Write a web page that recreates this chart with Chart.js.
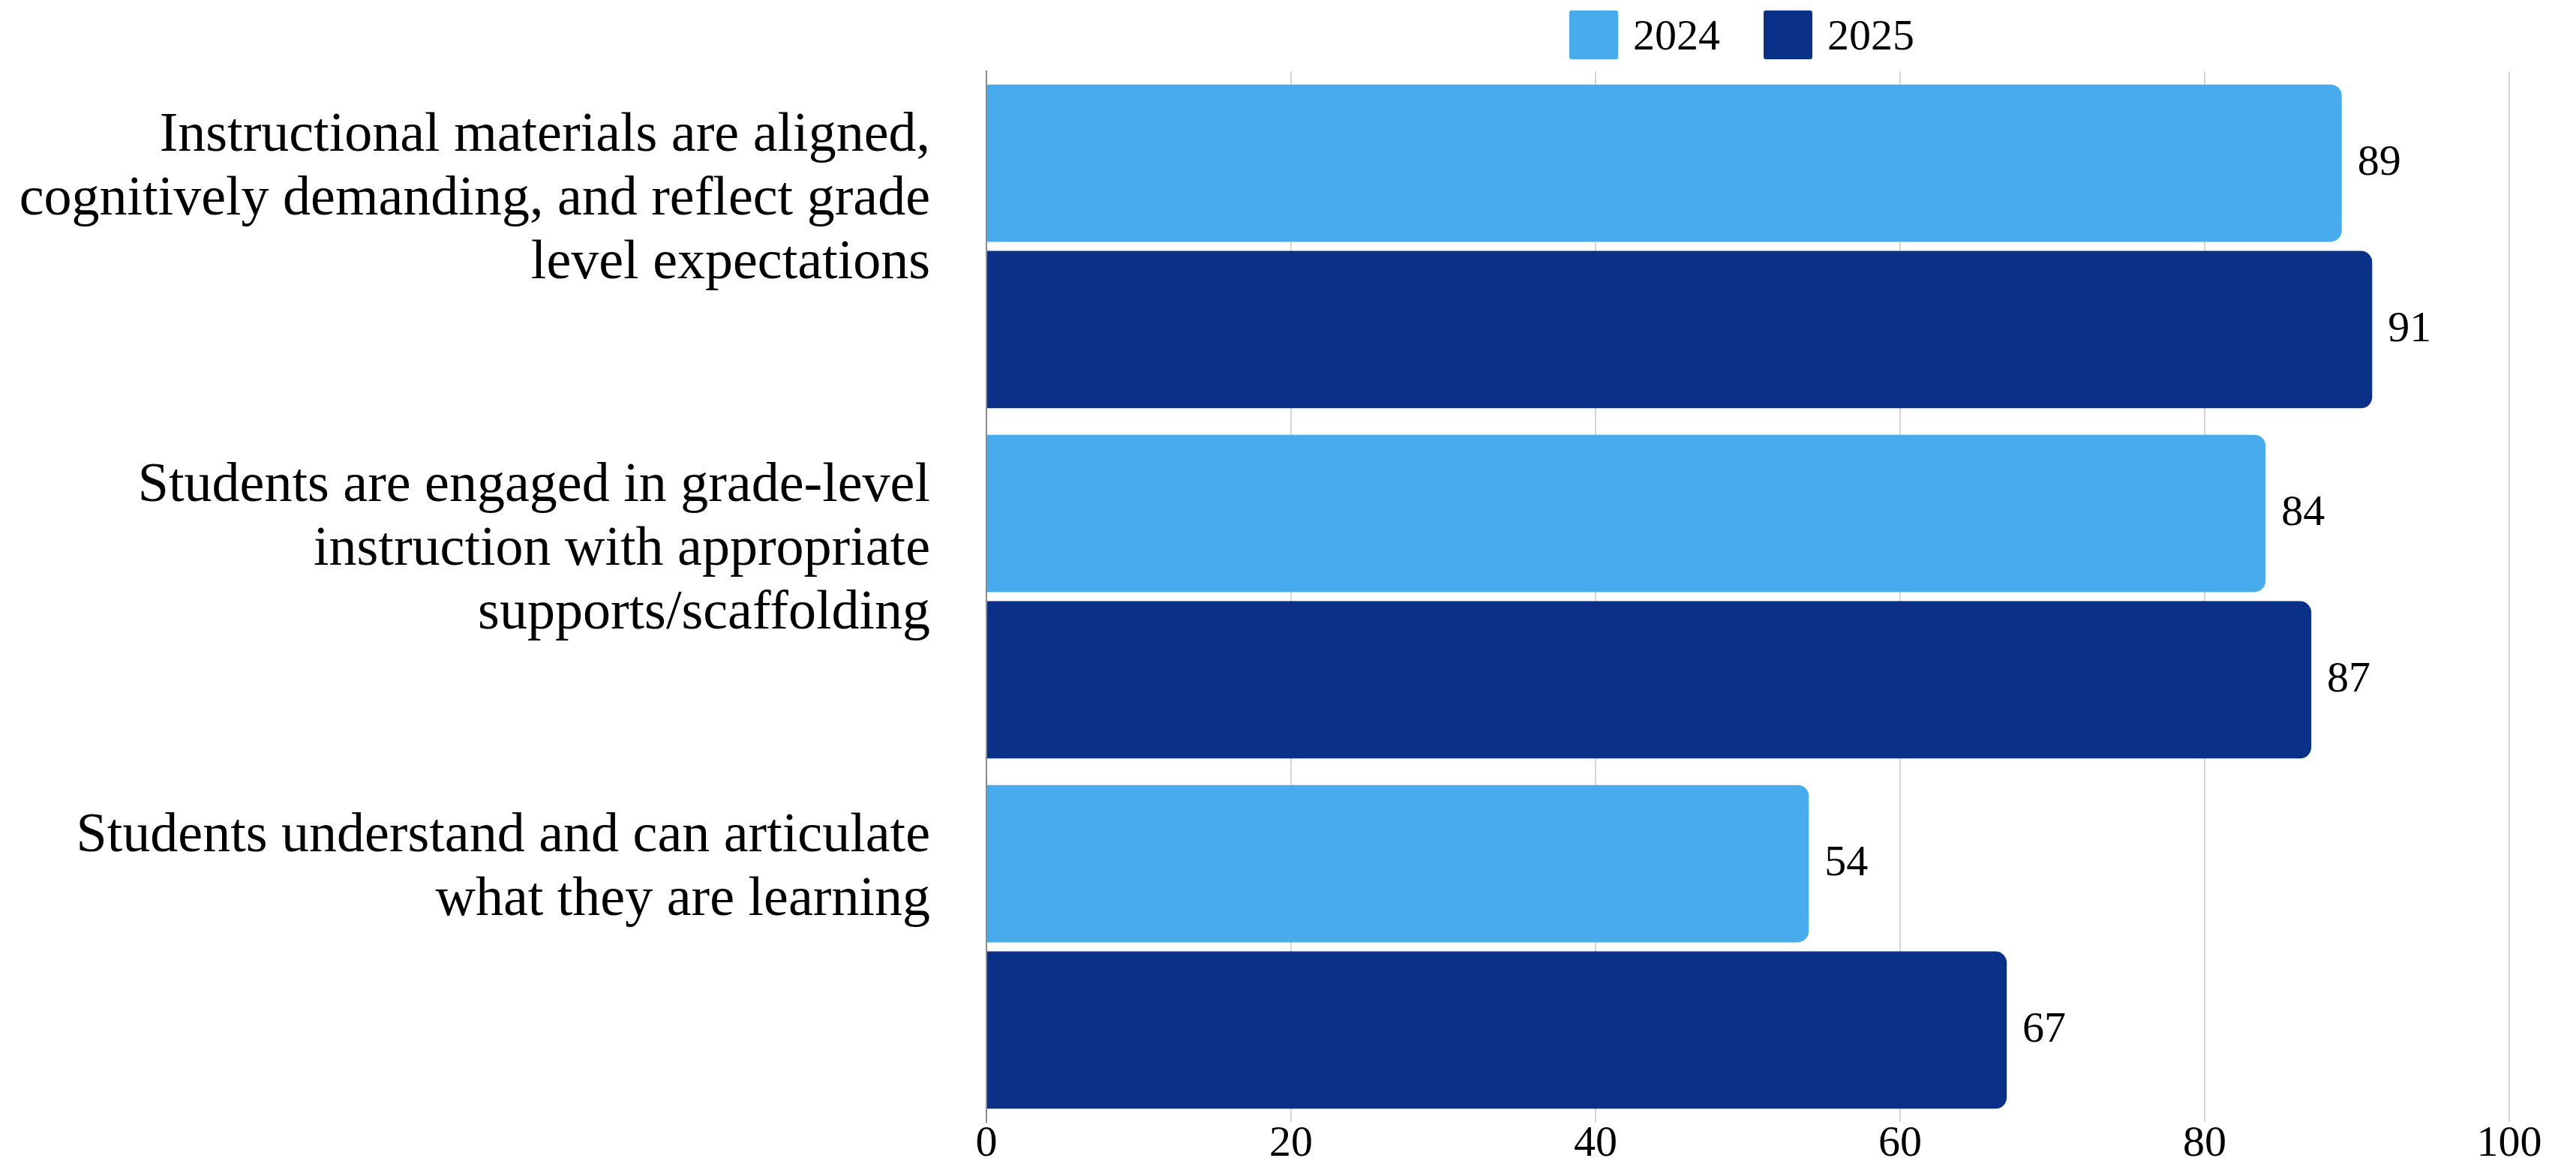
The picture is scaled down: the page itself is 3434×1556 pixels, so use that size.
<!DOCTYPE html>
<html>
<head>
<meta charset="utf-8">
<script src="https://cdn.jsdelivr.net/npm/chart.js@4.4.1/dist/chart.umd.min.js"></script>
<style>
  html, body { margin: 0; padding: 0; background: #fff; overflow: hidden; }
  #wrap { position: relative; width: 3434px; height: 1556px; }
  #legend { position: absolute; top: 14px; left: 2092px; display: flex; align-items: center;
            font: 58px "Liberation Serif", serif; line-height: 1; color: #000; }
  .item { display: flex; align-items: center; margin-right: 58px; }
  .swatch { width: 65px; height: 65px; border-radius: 3px; margin-right: 20px; }
</style>
</head>
<body>
<div id="wrap">
  <canvas id="myChart"></canvas>
  <div id="legend"></div>
</div>
<script>
// survey items, one per row (trailing '' keeps the two-line label top-aligned)
var categories = [
  ['Instructional materials are aligned,', 'cognitively demanding, and reflect grade', 'level expectations'],
  ['Students are engaged in grade-level', 'instruction with appropriate', 'supports/scaffolding'],
  ['Students understand and can articulate', 'what they are learning', '']
];
var years = ['2024', '2025'];
var values2024 = [89, 84, 54];
var values2025 = [91, 87, 67];
var xTicks = [0, 20, 40, 60, 80, 100];
var colors = ['#48acec', '#0b3087'];

var serif = '"Liberation Serif", serif';

// print the value just past the end of each bar
var valueLabels = {
  id: 'valueLabels',
  afterDatasetsDraw: function (chart) {
    var ctx = chart.ctx;
    ctx.save();
    ctx.font = '58px ' + serif;
    ctx.fillStyle = '#000';
    ctx.textAlign = 'left';
    ctx.textBaseline = 'middle';
    chart.data.datasets.forEach(function (ds, i) {
      chart.getDatasetMeta(i).data.forEach(function (bar, j) {
        ctx.fillText(ds.data[j], bar.x + 21, bar.y);
      });
    });
    ctx.restore();
  }
};

var ctx = document.getElementById('myChart').getContext('2d');
var chart = new Chart(ctx, {
  type: 'bar',
  data: {
    labels: categories,
    datasets: [{
      label: years[0],
      data: values2024,
      backgroundColor: colors[0],
      borderRadius: 15,
      categoryPercentage: 0.95,
      barPercentage: 0.946
    }, {
      label: years[1],
      data: values2025,
      backgroundColor: colors[1],
      borderRadius: 15,
      categoryPercentage: 0.95,
      barPercentage: 0.946
    }]
  },
  options: {
    indexAxis: 'y',
    responsive: true,
    maintainAspectRatio: false,
    animation: false,
    layout: { padding: { top: 95, right: 89, bottom: 0, left: 0 } },
    plugins: {
      legend: { display: false },
      tooltip: { enabled: false }
    },
    scales: {
      x: {
        min: 0,
        max: 100,
        afterBuildTicks: function (scale) {
          scale.ticks = xTicks.map(function (v) { return { value: v }; });
        },
        grid: { color: '#d6d6d6', lineWidth: 2, drawTicks: false },
        border: { display: false },
        ticks: {
          padding: 1,
          color: '#000',
          font: { family: serif, size: 58, lineHeight: 1 }
        }
      },
      y: {
        afterFit: function (scale) {
          scale.width = 1315;
          scale.paddingTop = 0;
          scale.paddingBottom = 0;
        },
        grid: { display: false, drawTicks: false },
        border: { display: true, color: '#8c8c8c', width: 2 },
        ticks: {
          padding: 75,
          labelOffset: -62,
          color: '#000',
          font: { family: serif, size: 74, lineHeight: 1.15 }
        }
      }
    }
  },
  plugins: [valueLabels]
});

// legend row above the plot
var legend = document.getElementById('legend');
years.forEach(function (y, i) {
  var item = document.createElement('div');
  item.className = 'item';
  var sw = document.createElement('span');
  sw.className = 'swatch';
  sw.style.background = colors[i];
  var txt = document.createElement('span');
  txt.textContent = y;
  item.appendChild(sw);
  item.appendChild(txt);
  legend.appendChild(item);
});
</script>
</body>
</html>
